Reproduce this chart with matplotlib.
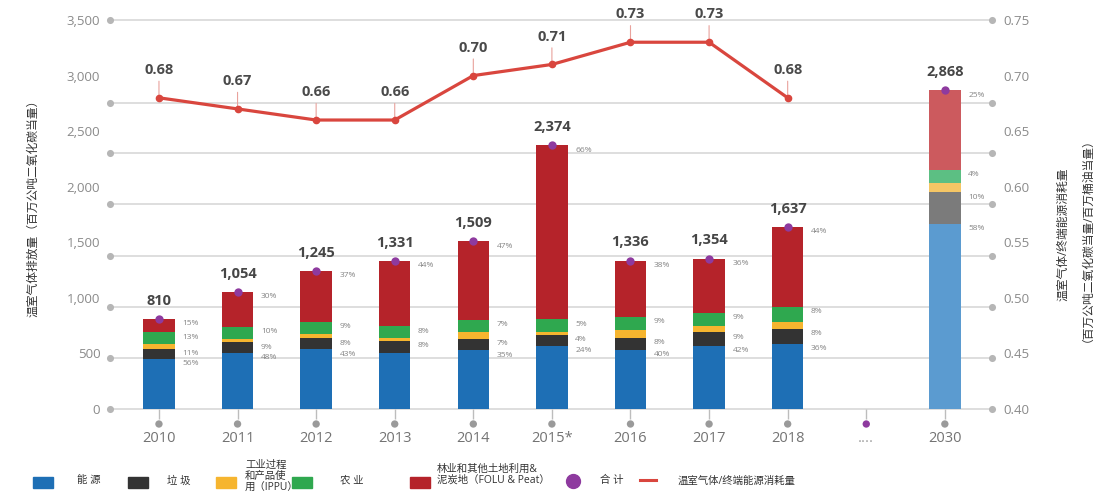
import numpy as np
import matplotlib.pyplot as plt
from matplotlib.patches import Rectangle
from matplotlib.lines import Line2D

plt.rcParams['font.family'] = ['Open Sans', 'Noto Sans CJK SC', 'DejaVu Sans']

# categories along the x axis ('....' is the gap before the 2030 projection)
categories = ['2010', '2011', '2012', '2013', '2014', '2015*', '2016', '2017', '2018', '....', '2030']
totals = [810, 1054, 1245, 1331, 1509, 2374, 1336, 1354, 1637, np.nan, 2868]

# sector shares of each total (%)
energy_pct = [56, 48, 43, 38, 35, 24, 40, 42, 36, np.nan, 58]
waste_pct = [11, 9, 8, 8, 7, 4, 8, 9, 8, np.nan, 10]
ippu_pct = [5, 3, 3, 2, 4, 1, 5, 4, 4, np.nan, 3]
agri_pct = [13, 10, 9, 8, 7, 5, 9, 9, 8, np.nan, 4]
folu_pct = [15, 30, 37, 44, 47, 66, 38, 36, 44, np.nan, 25]
energy_labelled = [True, True, True, False, True, True, True, True, True, False, True]

# GHG / final energy consumption ratio, 2010-2018
ratio = [0.68, 0.67, 0.66, 0.66, 0.70, 0.71, 0.73, 0.73, 0.68]

left_ticks = [0, 500, 1000, 1500, 2000, 2500, 3000, 3500]
right_ticks = [0.40, 0.45, 0.50, 0.55, 0.60, 0.65, 0.70, 0.75]
grid_levels = [0, 460, 920, 1380, 1840, 2300, 2755, 3500]

colors = {
    'energy': ('#1e6fb5', '#5b9bd0'),
    'waste': ('#333333', '#7b7b7b'),
    'ippu': ('#f6b52f', '#f5c665'),
    'agri': ('#2fa84f', '#5cbf83'),
    'folu': ('#b5232a', '#cc5a5e'),
}
PURPLE = '#8e3a9f'
LINE_RED = '#d9463e'

W, H = 1093, 493


def fx(px):
    return px / W


def fy(py):
    return 1 - py / H


fig = plt.figure(figsize=(W / 100, H / 100), dpi=100)
ax = fig.add_axes([fx(110), fy(409), fx(992) - fx(110), fy(20) - fy(409)])
ax2 = ax.twinx()

x = np.arange(len(categories))
totals = np.array(totals, dtype=float)
has_bar = ~np.isnan(totals)
projected = [c == '2030' for c in categories]
xlo, xhi = -0.623, 10.6
ax.set_xlim(xlo, xhi)
ax.set_ylim(0, 3500)
ax2.set_ylim(0.40, 0.75)

for a in (ax, ax2):
    for s in a.spines.values():
        s.set_visible(False)

# grid lines with round end caps
for lvl in grid_levels:
    ax.plot([xlo, xhi], [lvl, lvl], color='#d8d8d8', lw=1.2, zorder=1, clip_on=False)
    ax.scatter([xlo, xhi], [lvl, lvl], s=26, color='#b6b6b6', zorder=2, clip_on=False, linewidths=0)

# stacked bars
sectors = [('energy', energy_pct), ('waste', waste_pct), ('ippu', ippu_pct),
           ('agri', agri_pct), ('folu', folu_pct)]
bottom = np.zeros(len(x))
for name, pct in sectors:
    pct = np.array(pct, dtype=float)
    heights = totals * pct / 100
    cols = [colors[name][1] if p else colors[name][0] for p in projected]
    ax.bar(x[has_bar], heights[has_bar], bottom=bottom[has_bar], width=0.4,
           color=[c for c, h in zip(cols, has_bar) if h], zorder=3)
    if name != 'ippu':
        for i in x[has_bar]:
            if name == 'energy' and not energy_labelled[i]:
                continue
            ax.annotate(f'{pct[i]:.0f}%', xy=(i + 0.2, bottom[i] + heights[i]),
                        xytext=(5.5, -3.5), textcoords='offset points',
                        ha='left', va='center', fontsize=6, color='#858585', zorder=6)
    bottom = bottom + np.nan_to_num(heights)

# totals: dot on the bar top and value above
ax.scatter(x[has_bar], totals[has_bar], s=36, color=PURPLE, zorder=5, linewidths=0)
for i in x[has_bar]:
    ax.annotate(f'{totals[i]:,.0f}', xy=(i, totals[i]), xytext=(0, 13),
                textcoords='offset points', ha='center', va='center',
                fontsize=10.5, fontweight='bold', color='#464646')

# ratio line on the right axis
ax2.plot(x[:len(ratio)], ratio, color=LINE_RED, lw=2.3, marker='o', ms=4.5, zorder=4)
for i, r in enumerate(ratio):
    ax2.annotate(f'{r:.2f}', xy=(i, r), xytext=(0, 20), textcoords='offset points',
                 ha='center', va='center', fontsize=10.5, fontweight='bold', color='#4a4a4a',
                 arrowprops=dict(arrowstyle='-', color='#e9a29c', lw=0.8, shrinkA=1, shrinkB=2))

# y axes
ax.set_yticks(left_ticks, [f'{v:,}' for v in left_ticks])
ax.tick_params(axis='y', length=0, pad=7, labelsize=9.5, labelcolor='#8a8a8a')
ax2.set_yticks(right_ticks, [f'{v:.2f}' for v in right_ticks])
ax2.tick_params(axis='y', length=0, pad=8, labelsize=9.5, labelcolor='#8a8a8a')

# x axis: short stem, dot, then the label
ax.set_xticks(x, categories)
ax.tick_params(axis='x', length=7, width=1, color='#bdbdbd', pad=8.5, labelsize=10.5,
               labelcolor='#737373')
gap = categories.index('....')
ax.xaxis.get_major_ticks()[gap].tick1line.set_color('#e3a3b5')
ax.xaxis.get_major_ticks()[gap].label1.set_color('#a0a0a0')
dot_y = -15 * 3500 / 389
ax.scatter(x, np.full(len(x), dot_y), s=28, linewidths=0, clip_on=False, zorder=3,
           color=[PURPLE if c == '....' else '#9a9a9a' for c in categories])

# axis titles
fig.text(fx(33), fy(205), '温室气体排放量（百万公吨二氧化碳当量）', rotation=90,
         ha='center', va='center', fontsize=8.5, color='#333333')
fig.text(fx(1063), fy(234), '温室气体/终端能源消耗量', rotation=90,
         ha='center', va='center', fontsize=8.5, color='#333333')
fig.text(fx(1081), fy(234), '（百万公吨二氧化碳当量/百万桶油当量）', rotation=90,
         ha='center', va='center', fontsize=8.5, color='#333333')

# legend along the bottom: (swatch x, colour, label, text x, text centre y)
leg_y = 482
swatches = [
    (33, colors['energy'][0], '能 源', 77, 481),
    (128, colors['waste'][0], '垃 圾', 167, 481),
    (216, colors['ippu'][0], '工业过程\n和产品使\n用（IPPU）', 245, 477),
    (292, colors['agri'][0], '农 业', 340, 481),
    (410, colors['folu'][0], '林业和其他土地利用&\n泥炭地（FOLU & Peat）', 437, 475),
]
for x0, col, label, tx, ty in swatches:
    fig.add_artist(Rectangle((fx(x0), fy(leg_y + 6)), fx(20), 11 / H,
                             transform=fig.transFigure, color=col))
    fig.text(fx(tx), fy(ty), label, ha='left', va='center', fontsize=7.5,
             color='#333333', linespacing=1.05)
fig.add_artist(Line2D([fx(573)], [fy(481)], marker='o', ms=10, color=PURPLE,
                      transform=fig.transFigure, linestyle='none'))
fig.text(fx(600), fy(481), '合 计', ha='left', va='center', fontsize=7.5, color='#333333')
fig.add_artist(Line2D([fx(640), fx(656)], [fy(480), fy(480)], color=LINE_RED, lw=2.2,
                      transform=fig.transFigure))
fig.text(fx(678), fy(481), '温室气体/终端能源消耗量', ha='left', va='center',
         fontsize=7.5, color='#333333')

fig.savefig('out.png', dpi=100)
